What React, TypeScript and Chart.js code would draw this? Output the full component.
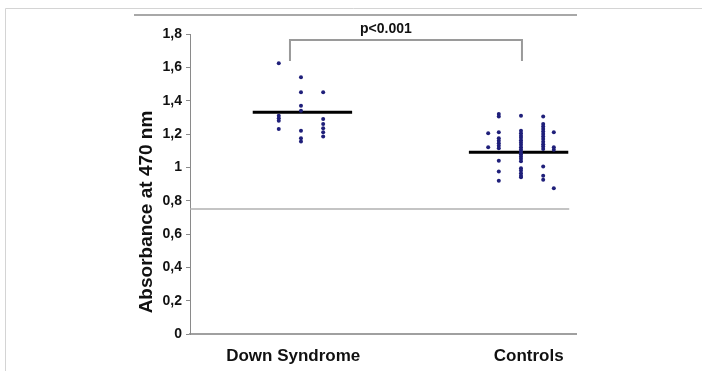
import React, { useEffect, useRef } from "react";
import { Chart, registerables } from "chart.js";

Chart.register(...registerables);

// Categories and their label positions on the (hidden) linear x scale
const categories = ["Down Syndrome", "Controls"];
const categoryPositions = [1.07, 3.51];

// Y tick range
const yMin = 0;
const yMax = 1.8;
const yStep = 0.2;

// Down Syndrome columns (x position on scale, values)
const dsColumnX = [0.92, 1.15, 1.38];
const dsCol1 = [1.625, 1.31, 1.295, 1.28, 1.23];
const dsCol2 = [1.54, 1.45, 1.37, 1.34, 1.22, 1.175, 1.155];
const dsCol3 = [1.45, 1.29, 1.26, 1.235, 1.21, 1.185];

// Controls columns
const ctColumnX = [3.09, 3.2, 3.43, 3.66, 3.77];
const ctCol1 = [1.205, 1.12];
const ctCol2 = [1.32, 1.305, 1.21, 1.175, 1.16, 1.145, 1.13, 1.115, 1.04, 0.975, 0.92];
const ctCol3 = [1.31, 1.22, 1.205, 1.19, 1.177, 1.163, 1.149, 1.135, 1.121, 1.107, 1.093, 1.079, 1.065, 1.051, 1.037, 0.995, 0.981, 0.965, 0.95, 0.94];
const ctCol4 = [1.305, 1.26, 1.245, 1.23, 1.215, 1.2, 1.185, 1.17, 1.153, 1.139, 1.125, 1.11, 1.005, 0.95, 0.925];
const ctCol5 = [1.21, 1.12, 1.105, 0.875];

// Group means and their horizontal extent
const dsMean = 1.33;
const dsMeanSpan = [0.65, 1.68];
const ctMean = 1.09;
const ctMeanSpan = [2.89, 3.92];

// Reference line
const refValue = 0.75;
const refSpan = [0, 3.93];

// Significance bracket
const bracketX = [1.036, 3.44];
const bracketY = [1.638, 1.764];
const pLabel = "p<0.001";
const pLabelPos = [2.03, 1.83];

const yTitle = "Absorbance at 470 nm";

const FONT = "'Liberation Sans', Arial, Helvetica, sans-serif";

function toPoints(xs: number[], cols: number[][]) {
  const pts: { x: number; y: number }[] = [];
  cols.forEach((col, i) => col.forEach((v) => pts.push({ x: xs[i], y: v })));
  return pts;
}

const decorPlugin = {
  id: "decor",
  beforeDraw(chart: any) {
    const ctx = chart.ctx;
    ctx.save();
    ctx.fillStyle = "#ffffff";
    ctx.fillRect(0, 0, chart.width, chart.height);
    // outer frame
    ctx.strokeStyle = "#d4d4d4";
    ctx.lineWidth = 1;
    ctx.beginPath();
    ctx.moveTo(5.5, chart.height);
    ctx.lineTo(5.5, 8.5);
    ctx.lineTo(chart.width, 8.5);
    ctx.stroke();
    // inner top rule
    ctx.strokeStyle = "#a8a8a8";
    ctx.lineWidth = 2;
    ctx.beginPath();
    ctx.moveTo(134, 15);
    ctx.lineTo(577, 15);
    ctx.stroke();
    ctx.restore();
  },
  afterDraw(chart: any) {
    const ctx = chart.ctx;
    const xs = chart.scales.x;
    const ys = chart.scales.y;
    ctx.save();
    // y title
    ctx.fillStyle = "#111";
    ctx.font = `bold 19px ${FONT}`;
    ctx.textAlign = "center";
    ctx.textBaseline = "middle";
    ctx.translate(147, 212);
    ctx.rotate(-Math.PI / 2);
    ctx.fillText(yTitle, 0, 0);
    ctx.restore();
    ctx.save();
    ctx.fillStyle = "#111";
    ctx.font = `bold 14px ${FONT}`;
    ctx.textAlign = "center";
    ctx.textBaseline = "middle";
    ctx.fillText(pLabel, xs.getPixelForValue(pLabelPos[0]), ys.getPixelForValue(pLabelPos[1]));
    ctx.restore();
  },
};

export default function App() {
  const ref = useRef<HTMLCanvasElement | null>(null);
  useEffect(() => {
    if (!ref.current) return;
    const lineDs = (data: { x: number; y: number }[], color: string, width: number) => ({
      data,
      showLine: true,
      borderColor: color,
      borderWidth: width,
      pointRadius: 0,
      fill: false,
      clip: false as any,
    });
    const chart = new Chart(ref.current, {
      type: "scatter",
      data: {
        datasets: [
          lineDs(
            [
              { x: refSpan[0], y: refValue },
              { x: refSpan[1], y: refValue },
            ],
            "#b0b0b0",
            1.5
          ),
          lineDs(
            [
              { x: bracketX[0], y: bracketY[0] },
              { x: bracketX[0], y: bracketY[1] },
              { x: bracketX[1], y: bracketY[1] },
              { x: bracketX[1], y: bracketY[0] },
            ],
            "#9a9a9a",
            2
          ),
          {
            data: toPoints(dsColumnX, [dsCol1, dsCol2, dsCol3]),
            pointRadius: 2,
            pointBackgroundColor: "#1f1f7a",
            pointBorderWidth: 0,
            borderColor: "#1f1f7a",
          },
          {
            data: toPoints(ctColumnX, [ctCol1, ctCol2, ctCol3, ctCol4, ctCol5]),
            pointRadius: 2,
            pointBackgroundColor: "#1f1f7a",
            pointBorderWidth: 0,
            borderColor: "#1f1f7a",
          },
          lineDs(
            [
              { x: dsMeanSpan[0], y: dsMean },
              { x: dsMeanSpan[1], y: dsMean },
            ],
            "#000000",
            3
          ),
          lineDs(
            [
              { x: ctMeanSpan[0], y: ctMean },
              { x: ctMeanSpan[1], y: ctMean },
            ],
            "#000000",
            3
          ),
        ],
      },
      options: {
        animation: false,
        responsive: false,
        layout: { padding: { left: 0, top: 34, right: 126, bottom: 0 } },
        plugins: { legend: { display: false }, tooltip: { enabled: false } },
        scales: {
          x: {
            type: "linear",
            min: 0,
            max: 4,
            afterBuildTicks: (scale: any) => {
              scale.ticks = categoryPositions.map((v) => ({ value: v }));
            },
            afterFit: (scale: any) => {
              scale.height = 37;
            },
            grid: { display: false, drawTicks: false },
            border: { display: true, color: "#a0a0a0", width: 2 },
            ticks: {
              autoSkip: false,
              maxRotation: 0,
              padding: 12,
              color: "#111",
              font: { family: FONT, size: 17, weight: "bold" },
              callback: (_v: any, i: number) => categories[i],
            },
          },
          y: {
            type: "linear",
            min: yMin,
            max: yMax,
            afterFit: (scale: any) => {
              scale.width = 190;
            },
            grid: { drawOnChartArea: false, drawTicks: true, tickLength: 4, color: "#8a8a8a" },
            border: { display: true, color: "#8a8a8a", width: 1 },
            ticks: {
              stepSize: yStep,
              padding: 4,
              color: "#111",
              font: { family: FONT, size: 14, weight: "bold" },
              callback: (v: any) => {
                const n = Math.round(Number(v) * 10) / 10;
                return String(n).replace(".", ",");
              },
            },
          },
        },
      },
      plugins: [decorPlugin],
    });
    return () => chart.destroy();
  }, []);
  return (
    <div style={{ position: "fixed", left: 0, top: 0, width: 702, height: 371, background: "#fff" }}>
      <canvas ref={ref} width={702} height={371} style={{ display: "block" }} />
    </div>
  );
}
